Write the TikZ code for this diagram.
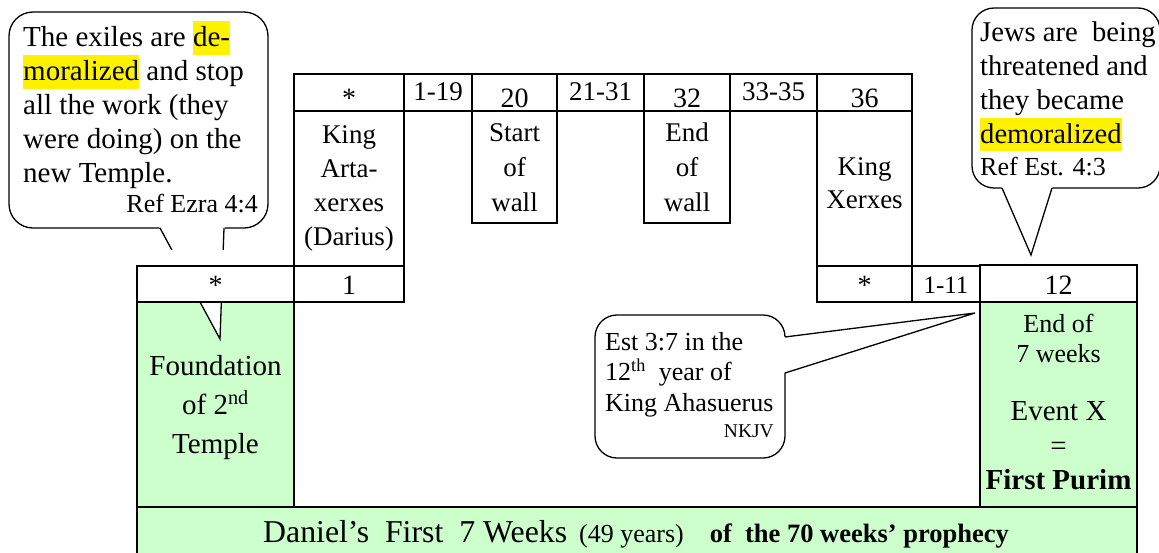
\documentclass[tikz,border=0pt]{standalone}
\usepackage{fontspec}
\setmainfont{Liberation Serif}
\usetikzlibrary{fit}
\definecolor{paleGreen}{HTML}{CCFFCC}
\newcommand{\hlt}[1]{{\setlength{\fboxsep}{0pt}\colorbox{yellow}{\rule[-8pt]{0pt}{33.5pt}#1}}}
\newcommand{\fsz}[2]{\fontsize{#1}{#2}\selectfont}
\begin{document}
\begin{tikzpicture}[x=1pt,y=-1pt,
  cell/.style={draw=black, line width=1.5pt, fill=white, inner sep=0pt, outer sep=0pt},
  greencell/.style={cell, fill=paleGreen},
  txt/.style={inner sep=0pt, outer sep=0pt, anchor=base, align=center},
  bubble/.style={draw=black, line width=1.3pt, fill=white, rounded corners=22pt, inner sep=0pt, outer sep=0pt},
  tail/.style={draw=black, line width=1.3pt},
  big/.style={font=\fsz{28}{34}},
  rng/.style={font=\fsz{27}{32}},
]
\useasboundingbox (0,0) rectangle (1159,552);

% green areas
\node[greencell, fit={(137,302) (294,507)}] (gL) {};
\node[greencell, fit={(980,302) (1137,507)}] (gR) {};
\node[greencell, fit={(137,507) (1137,560)}] (bar) {};

% left speech bubble (under the table)
\node[bubble, rounded corners=24pt, fit={(9,12) (268,228)}] (bubL) {};
\coordinate (tipL) at (220,339);
\fill[white] (159.3,226.9) -- (tipL) -- (224.6,226.9) -- cycle;
\draw[tail] (160,228) -- (tipL) -- (224,228);
\fill[white] (137,250) rectangle (294,265);

% header row
\node[cell, fit={(294,74) (404,111)}] (hA) {};
\node[cell, fit={(404,74) (472,111)}] (h119) {};
\node[cell, fit={(472,74) (557,111)}] (h20) {};
\node[cell, fit={(557,74) (644,111)}] (h2131) {};
\node[cell, fit={(644,74) (730,111)}] (h32) {};
\node[cell, fit={(730,74) (817,111)}] (h3335) {};
\node[cell, fit={(817,74) (912,111)}] (h36) {};
% bodies
\node[cell, fit={(294,111) (404,266)}] (bArta) {};
\node[cell, fit={(472,111) (557,223)}] (bStart) {};
\node[cell, fit={(644,111) (730,223)}] (bEnd) {};
\node[cell, fit={(817,111) (912,266)}] (bXerx) {};
% lower row
\node[cell, fit={(137,266) (294,302)}] (lStarL) {};
\node[cell, fit={(294,266) (404,302)}] (l1) {};
\node[cell, fit={(817,266) (912,302)}] (lStarR) {};
\node[cell, fit={(912,266) (980,302)}] (l111) {};
\node[cell, fit={(980,265) (1137,302)}] (l12) {};

% header texts
\node[txt, big] (tA) at (349,107) {*};
\node[txt, rng] (t119) at (438,100) {1-19};
\node[txt, big] (t20) at (514.5,107) {20};
\node[txt, rng] (t2131) at (600.5,100) {21-31};
\node[txt, big] (t32) at (687,107) {32};
\node[txt, rng] (t3335) at (773.5,100) {33-35};
\node[txt, big] (t36) at (864.5,107) {36};
% body texts (anchor = baseline of the last line)
\node[txt, font=\fsz{27}{34}] (tArta) at (349,245.3) {King\\Arta-\\xerxes\\(Darius)};
\node[txt, font=\fsz{27}{35}] (tStart) at (514.5,211.7) {Start\\of\\wall};
\node[txt, font=\fsz{27}{35}] (tEnd) at (687,211.7) {End\\of\\wall};
\node[txt, font=\fsz{27}{33.5}] (tXerx) at (864.5,208.5) {King\\Xerxes};
% lower row texts
\node[txt, big] (tStarL) at (215.5,294) {*};
\node[txt, big] (t1) at (349,294) {1};
\node[txt, big] (tStarR) at (864.5,294) {*};
\node[txt, font=\fsz{25}{30}] (t111) at (946,293.5) {1-11};
\node[txt, big] (t12) at (1058.5,294) {12};

% green texts
\node[txt, font=\fsz{29}{39}] (tFound) at (215.5,453) {Foundation\\of 2\textsuperscript{nd}\\Temple};
\node[txt, font=\fsz{26}{30}] (tEndW) at (1058.5,362.7) {End of\\7 weeks};
\node[txt, font=\fsz{29}{34.3}] (tEvent) at (1058.5,489.3) {Event X\\=\\\textbf{First Purim}};
\node[inner sep=0pt, anchor=base west] (tBar) at (263,542.7) {{\fsz{31.8}{36}Daniel’s\ \ First\ \ 7 Weeks}\hspace{12pt}{\fsz{26}{30}(49 years)}\hspace{26pt}{\fsz{26.5}{30}\bfseries of\ \ the 70 weeks’ prophecy}};

% left bubble text
\node[inner sep=0pt, anchor=base west, align=left, font=\fsz{29}{34}] (txtL) at (23,182.7)
  {The exiles are \hlt{de-}\\\hlt{moralized} and stop\\all the work (they\\were doing) on the\\new Temple.};
\node[inner sep=0pt, anchor=base east, font=\fsz{26}{30}] (refL) at (258,212) {Ref Ezra 4:4};

% middle bubble
\node[bubble, fit={(595,315) (785,458)}] (bubM) {};
\coordinate (tipM) at (975,313);
\fill[white] (783.6,337) -- (tipM) -- (783.6,373) -- cycle;
\draw[tail] (785,337) -- (tipM) -- (785,373);
\node[inner sep=0pt, anchor=base west, align=left, font=\fsz{26}{30.5}] (txtM) at (605,411)
  {Est 3:7 in the\\12\textsuperscript{th}\ \ year of\\King Ahasuerus};
\node[inner sep=0pt, anchor=base east, font=\fsz{19.5}{22}] (refM) at (774,437) {NKJV};

% right bubble
\node[bubble, fit={(972,8) (1160,188)}] (bubR) {};
\coordinate (tipR) at (1031,255);
\fill[white] (1001.4,186.6) -- (tipR) -- (1052.6,186.6) -- cycle;
\draw[tail] (1002,188) -- (tipR) -- (1052,188);
\node[inner sep=0pt, anchor=base west, align=left, font=\fsz{28.6}{33.8}] (txtR) at (980,143.1)
  {Jews are\ \ being\\threatened and\\they became\\\hlt{demoralized}};
\node[inner sep=0pt, anchor=base west, font=\fsz{26}{30}] (refR) at (980,175) {Ref Est. 4:3};
\end{tikzpicture}
\end{document}
